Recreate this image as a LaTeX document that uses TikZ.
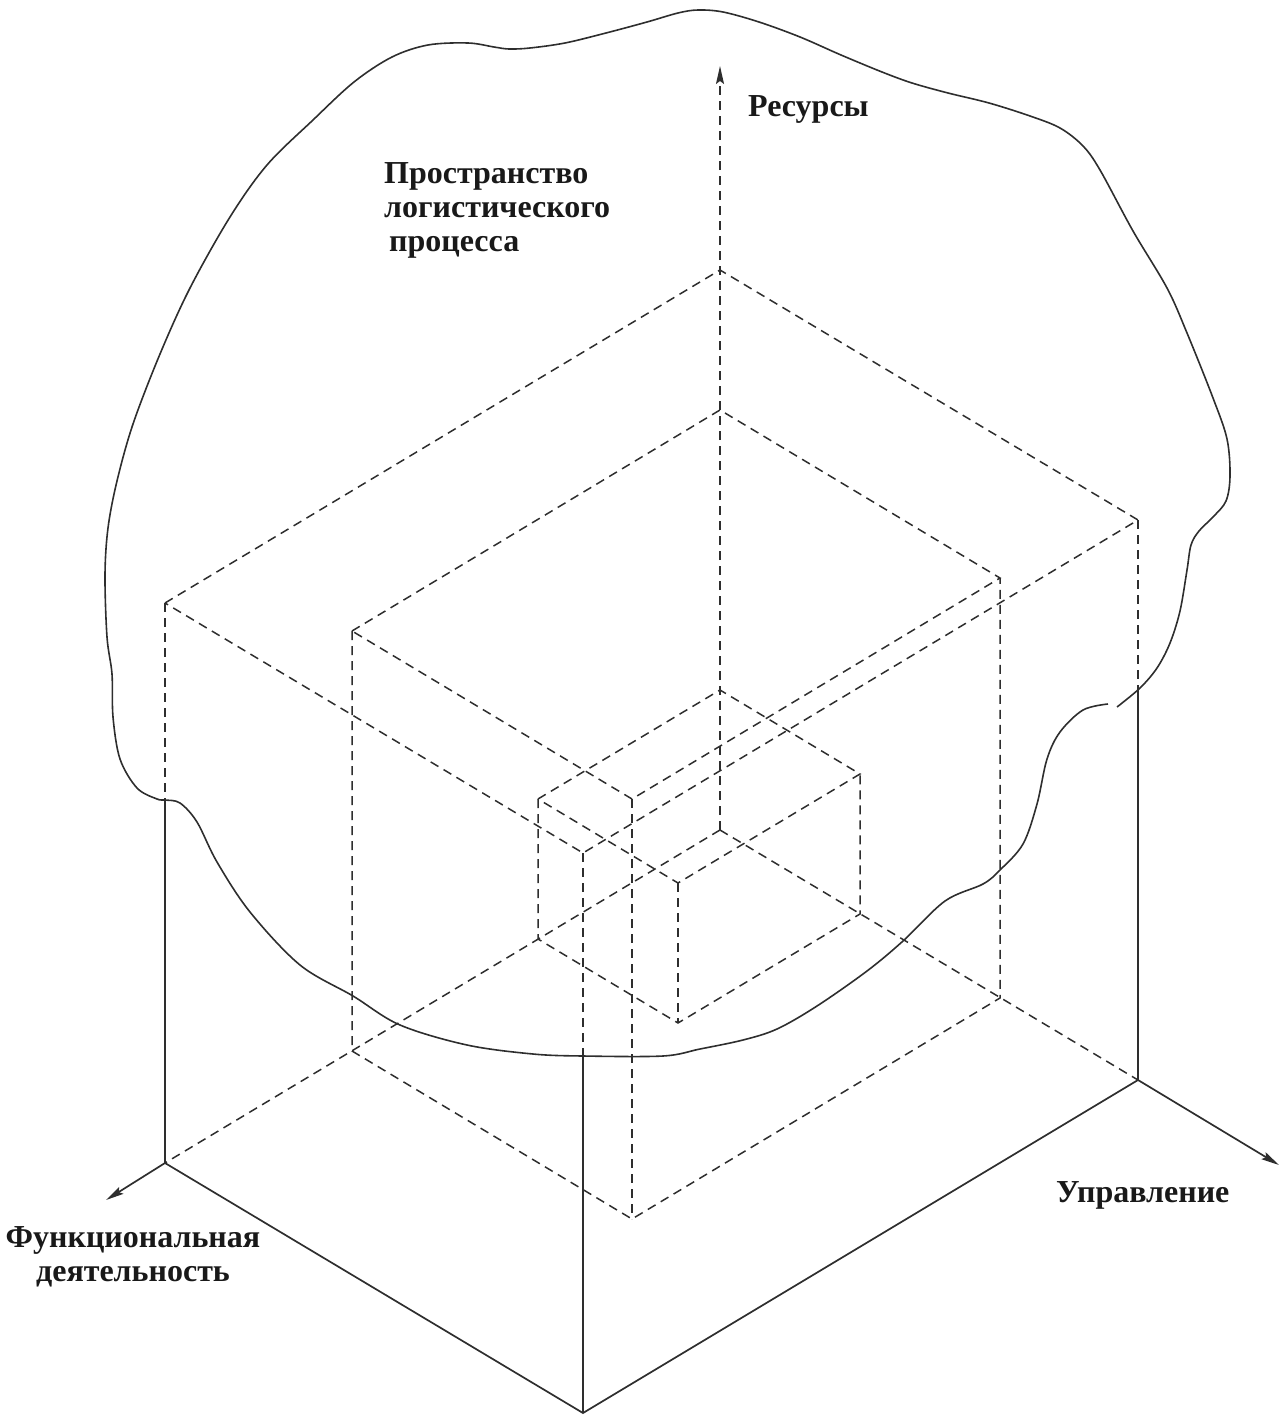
\documentclass[tikz,border=0pt]{standalone}
\usepackage{fontspec}
\setmainfont{Liberation Serif}
\usetikzlibrary{arrows.meta}
\definecolor{ink}{HTML}{2E2E2E}

\begin{document}
\begin{tikzpicture}[x=1pt,y=-1pt,
  edge/.style={draw=ink, line width=1.5pt},
  hidden/.style={edge, dash pattern=on 9pt off 6pt},
  visible/.style={edge, line width=1.7pt},
  axis/.style={-{Stealth[length=18pt,width=8pt,inset=3pt]}},
  lbl/.style={font=\bfseries\fontsize{32}{34}\selectfont, inner sep=0pt, text=black!90}]
\useasboundingbox (0,0) rectangle (1282,1418);

% common back-bottom corner (origin of the three axes)
\coordinate (O) at (720,830);

% outer box
\coordinate (L1) at (165,1163);  \coordinate (R1) at (1138,1080);
\coordinate (F1) at (583,1413);
\coordinate (L1t) at (165,603);  \coordinate (O1t) at (720,270);
\coordinate (R1t) at (1138,520); \coordinate (F1t) at (583,853);
% middle box
\coordinate (L2) at (352,1051);  \coordinate (R2) at (1000,998);
\coordinate (F2) at (632,1219);
\coordinate (L2t) at (352,631);  \coordinate (O2t) at (720,410);
\coordinate (R2t) at (1000,578); \coordinate (F2t) at (632,799);
% small box
\coordinate (L3) at (538,939);   \coordinate (R3) at (860,914);
\coordinate (F3) at (678,1023);
\coordinate (L3t) at (538,799);  \coordinate (O3t) at (720,690);
\coordinate (R3t) at (860,774);  \coordinate (F3t) at (678,883);

% where the outline crosses the outer vertical edges
\coordinate (Lc) at (165,800);
\coordinate (Rc) at (1138,689);
\coordinate (Fc) at (583,1056);

% axis ends
\coordinate (Rz) at (720,66);
\coordinate (Fx) at (106,1200);
\coordinate (Uy) at (1279,1165);

% outline of the process space
\draw[visible, line width=1.6pt] plot[smooth, tension=0.55] coordinates {
  (1117,707) (1140,688) (1157,668) (1170,643) (1180,611) (1187,570)
  (1191,545) (1199,531) (1213,517) (1226,501) (1230,476) (1227,439)
  (1213,398) (1187,333) (1167,288) (1133,231) (1100,170) (1083,146)
  (1060,128) (1030,116) (989,103) (948,93) (912,83) (882,72) (841,55)
  (800,37) (759,22) (723,12) (698,10) (678,13) (647,22) (606,33)
  (565,43) (530,48) (509,49) (494,47) (468,43) (428,45) (392,57)
  (354,82) (313,120) (267,165) (230,217) (190,288) (160,354) (133,424)
  (117,481) (108,528) (105,575) (107,637) (112,674) (113,717) (120,759)
  (137,788) (157,799) (165,800) (180,803) (197,822) (217,862) (250,912)
  (300,965) (353,996) (400,1025) (467,1045) (533,1054) (583,1056)
  (663,1056) (700,1049) (743,1040) (777,1029) (817,1006) (867,971)
  (903,941) (945,901) (983,884) (1000,870) (1023,844) (1037,804)
  (1047,759) (1060,732) (1083,710) (1108,704)};

% hidden edges: outer box
\draw[hidden] (L1t) -- (O1t) -- (R1t) -- (F1t) -- cycle;
\draw[hidden] (L1t) -- (Lc);
\draw[hidden] (R1t) -- (Rc);
\draw[hidden] (F1t) -- (Fc);
\draw[hidden] (O) -- (L1);
\draw[hidden] (O) -- (R1);

% hidden edges: middle box
\draw[hidden] (L2t) -- (O2t) -- (R2t) -- (F2t) -- cycle;
\draw[hidden] (L2t) -- (L2) -- (F2) -- (R2) -- (R2t);
\draw[hidden] (F2t) -- (F2);

% hidden edges: small box
\draw[hidden] (L3t) -- (O3t) -- (R3t) -- (F3t) -- cycle;
\draw[hidden] (L3t) -- (L3) -- (F3) -- (R3) -- (R3t);
\draw[hidden] (F3t) -- (F3);

% visible edges of the outer box
\draw[visible] (Lc) -- (L1) -- (F1) -- (R1) -- (Rc);
\draw[visible] (Fc) -- (F1);

% axes
\draw[hidden, axis] (O) -- (Rz);
\draw[visible, axis] (L1) -- (Fx);
\draw[visible, axis] (R1) -- (Uy);

% labels (base anchor of a multi-line node sits on its last line)
\node[lbl, anchor=base west] (res) at (748,117) {Ресурсы};
\node[lbl, anchor=base west, align=left] (space) at (384,251)
  {Пространство\\логистического\\\hspace*{5pt}процесса};
\node[lbl, anchor=base, align=center] (func) at (133,1281)
  {Функциональная\\деятельность};
\node[lbl, anchor=base west] (upr) at (1056,1202) {Управление};
\end{tikzpicture}
\end{document}
